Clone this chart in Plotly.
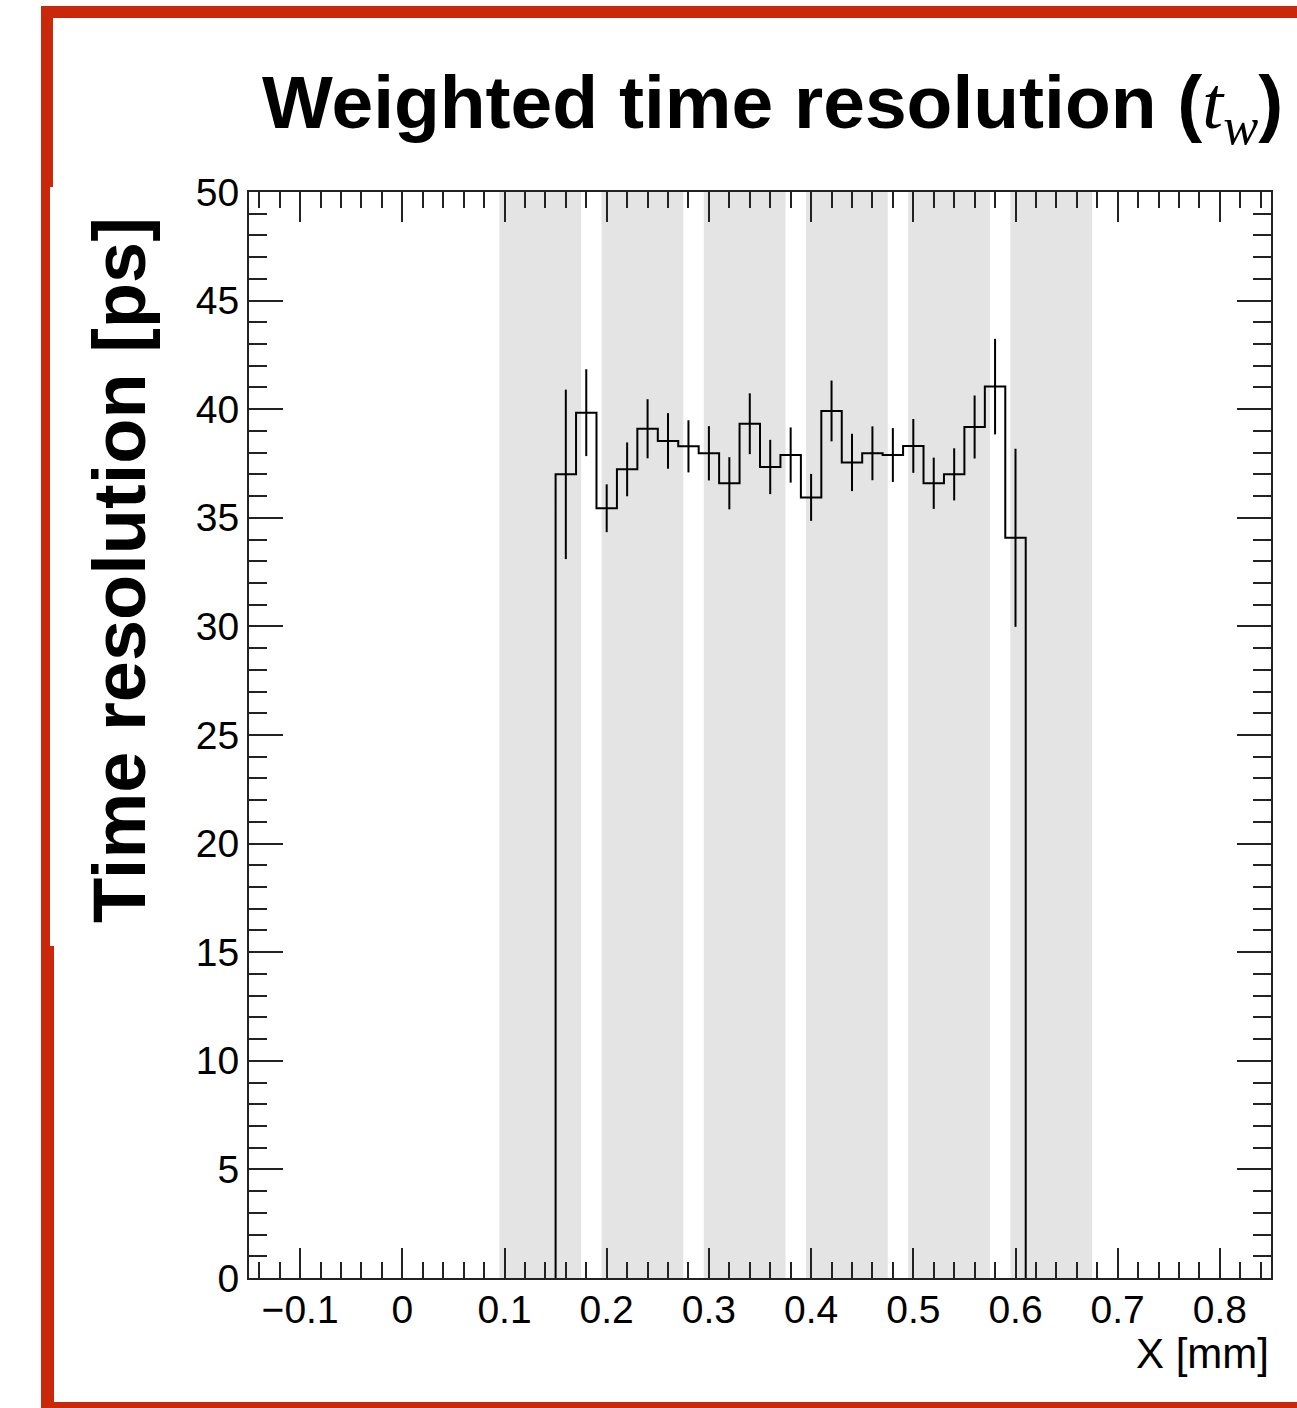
import numpy as np
import plotly.graph_objects as go

# ---- data ----
bin_edges_lo = [0.15, 0.17, 0.19, 0.21, 0.23, 0.25, 0.27, 0.29, 0.31, 0.33, 0.35, 0.37,
                0.39, 0.41, 0.43, 0.45, 0.47, 0.49, 0.51, 0.53, 0.55, 0.57, 0.59]
bin_width = 0.02
resolution_ps = [37.0, 39.84, 35.44, 37.23, 39.10, 38.54, 38.29, 37.97, 36.59, 39.33, 37.34, 37.89,
                 35.94, 39.92, 37.55, 37.97, 37.89, 38.31, 36.59, 37.0, 39.18, 41.04, 34.08]
resolution_err = [3.9, 2.0, 1.1, 1.24, 1.36, 1.28, 1.2, 1.25, 1.2, 1.4, 1.25, 1.27,
                  1.08, 1.4, 1.32, 1.24, 1.24, 1.24, 1.18, 1.2, 1.45, 2.2, 4.1]
pad_lo = [0.095, 0.195, 0.295, 0.395, 0.495, 0.595]
pad_hi = [0.175, 0.275, 0.375, 0.475, 0.575, 0.675]
x_range = [-0.15, 0.85]
y_range = [0, 50]

# ---- layout constants ----
W, H = 1297, 1408
ML, MR, MT, MB = 249, 26, 192, 130
PW, PH = W - ML - MR, H - MT - MB

def px(x):
    return (x - ML) / PW

def py(y):
    return (H - MB - y) / PH

FONT = "Liberation Sans, Arial, Helvetica, sans-serif"

lo = np.array(bin_edges_lo)
hi = lo + bin_width
vals = np.array(resolution_ps)

# step outline of the histogram
xs = [lo[0]]
ys = [0.0]
for a, b, v in zip(lo, hi, vals):
    xs += [a, b]
    ys += [v, v]
xs.append(hi[-1])
ys.append(0.0)

fig = go.Figure()
fig.add_trace(go.Scatter(x=xs, y=ys, mode="lines",
                         line=dict(color="black", width=2), hoverinfo="skip",
                         showlegend=False))
fig.add_trace(go.Scatter(x=(lo + hi) / 2, y=vals, mode="markers",
                         marker=dict(size=1, color="black"),
                         error_y=dict(type="data", array=resolution_err, visible=True,
                                      width=0, thickness=2, color="black"),
                         showlegend=False))

shapes = []
for a, b in zip(pad_lo, pad_hi):
    shapes.append(dict(type="rect", xref="x", yref="paper", x0=a, x1=b, y0=0, y1=1,
                       fillcolor="#E4E4E4", line=dict(width=0), layer="below"))

RED = "#C9280B"
def red_rect(x0, y0, x1, y1):
    return dict(type="rect", xref="paper", yref="paper",
                x0=px(x0), x1=px(x1), y0=py(y1), y1=py(y0),
                fillcolor=RED, line=dict(width=0), layer="above")

shapes += [
    red_rect(41, 6, W + 2, 18),
    red_rect(41, 6, 53, 187),
    red_rect(41, 187, 50, 946),
    red_rect(41, 946, 54, H + 2),
    red_rect(41, 1402, W + 2, H + 2),
]

annotations = [
    dict(xref="paper", yref="paper", x=px(1285), y=py(108), xanchor="right", yanchor="middle",
         showarrow=False,
         text="<b>Weighted time resolution (</b>"
              "<span style=\"font-family:'Liberation Serif', 'Times New Roman', serif\"><i>t</i>"
              "<sub><i>w</i></sub></span><b>)</b>",
         font=dict(family=FONT, size=75, color="black")),
    dict(xref="paper", yref="paper", x=px(119), y=py(570), xanchor="center", yanchor="middle",
         textangle=-90, showarrow=False, text="<b>Time resolution [ps]</b>",
         font=dict(family=FONT, size=74, color="black")),
    dict(xref="paper", yref="paper", x=1.0, y=py(1353), xanchor="right", yanchor="middle",
         showarrow=False, text="X [mm]",
         font=dict(family=FONT, size=42, color="black")),
]

fig.update_layout(
    width=W, height=H, autosize=False,
    margin=dict(l=ML, r=MR, t=MT, b=MB, pad=0),
    paper_bgcolor="white", plot_bgcolor="white",
    shapes=shapes, annotations=annotations,
    font=dict(family=FONT, color="black"),
    xaxis=dict(range=x_range, dtick=0.1, tick0=0, ticks="inside", ticklen=30, tickwidth=2,
               tickcolor="#222", showline=True, linecolor="#222", linewidth=2,
               mirror="allticks", showgrid=False, zeroline=False, ticklabelstandoff=-4,
               tickfont=dict(family=FONT, size=39, color="black"),
               minor=dict(ticks="inside", ticklen=16, dtick=0.02, tick0=0,
                          tickwidth=2, tickcolor="#222", showgrid=False)),
    yaxis=dict(range=y_range, dtick=5, tick0=0, ticks="inside", ticklen=34, tickwidth=2,
               tickcolor="#222", showline=True, linecolor="#222", linewidth=2,
               mirror="allticks", showgrid=False, zeroline=False,
               tickfont=dict(family=FONT, size=39, color="black"),
               minor=dict(ticks="inside", ticklen=18, dtick=1, tick0=0,
                          tickwidth=2, tickcolor="#222", showgrid=False)),
)

fig.write_html("out.html")
